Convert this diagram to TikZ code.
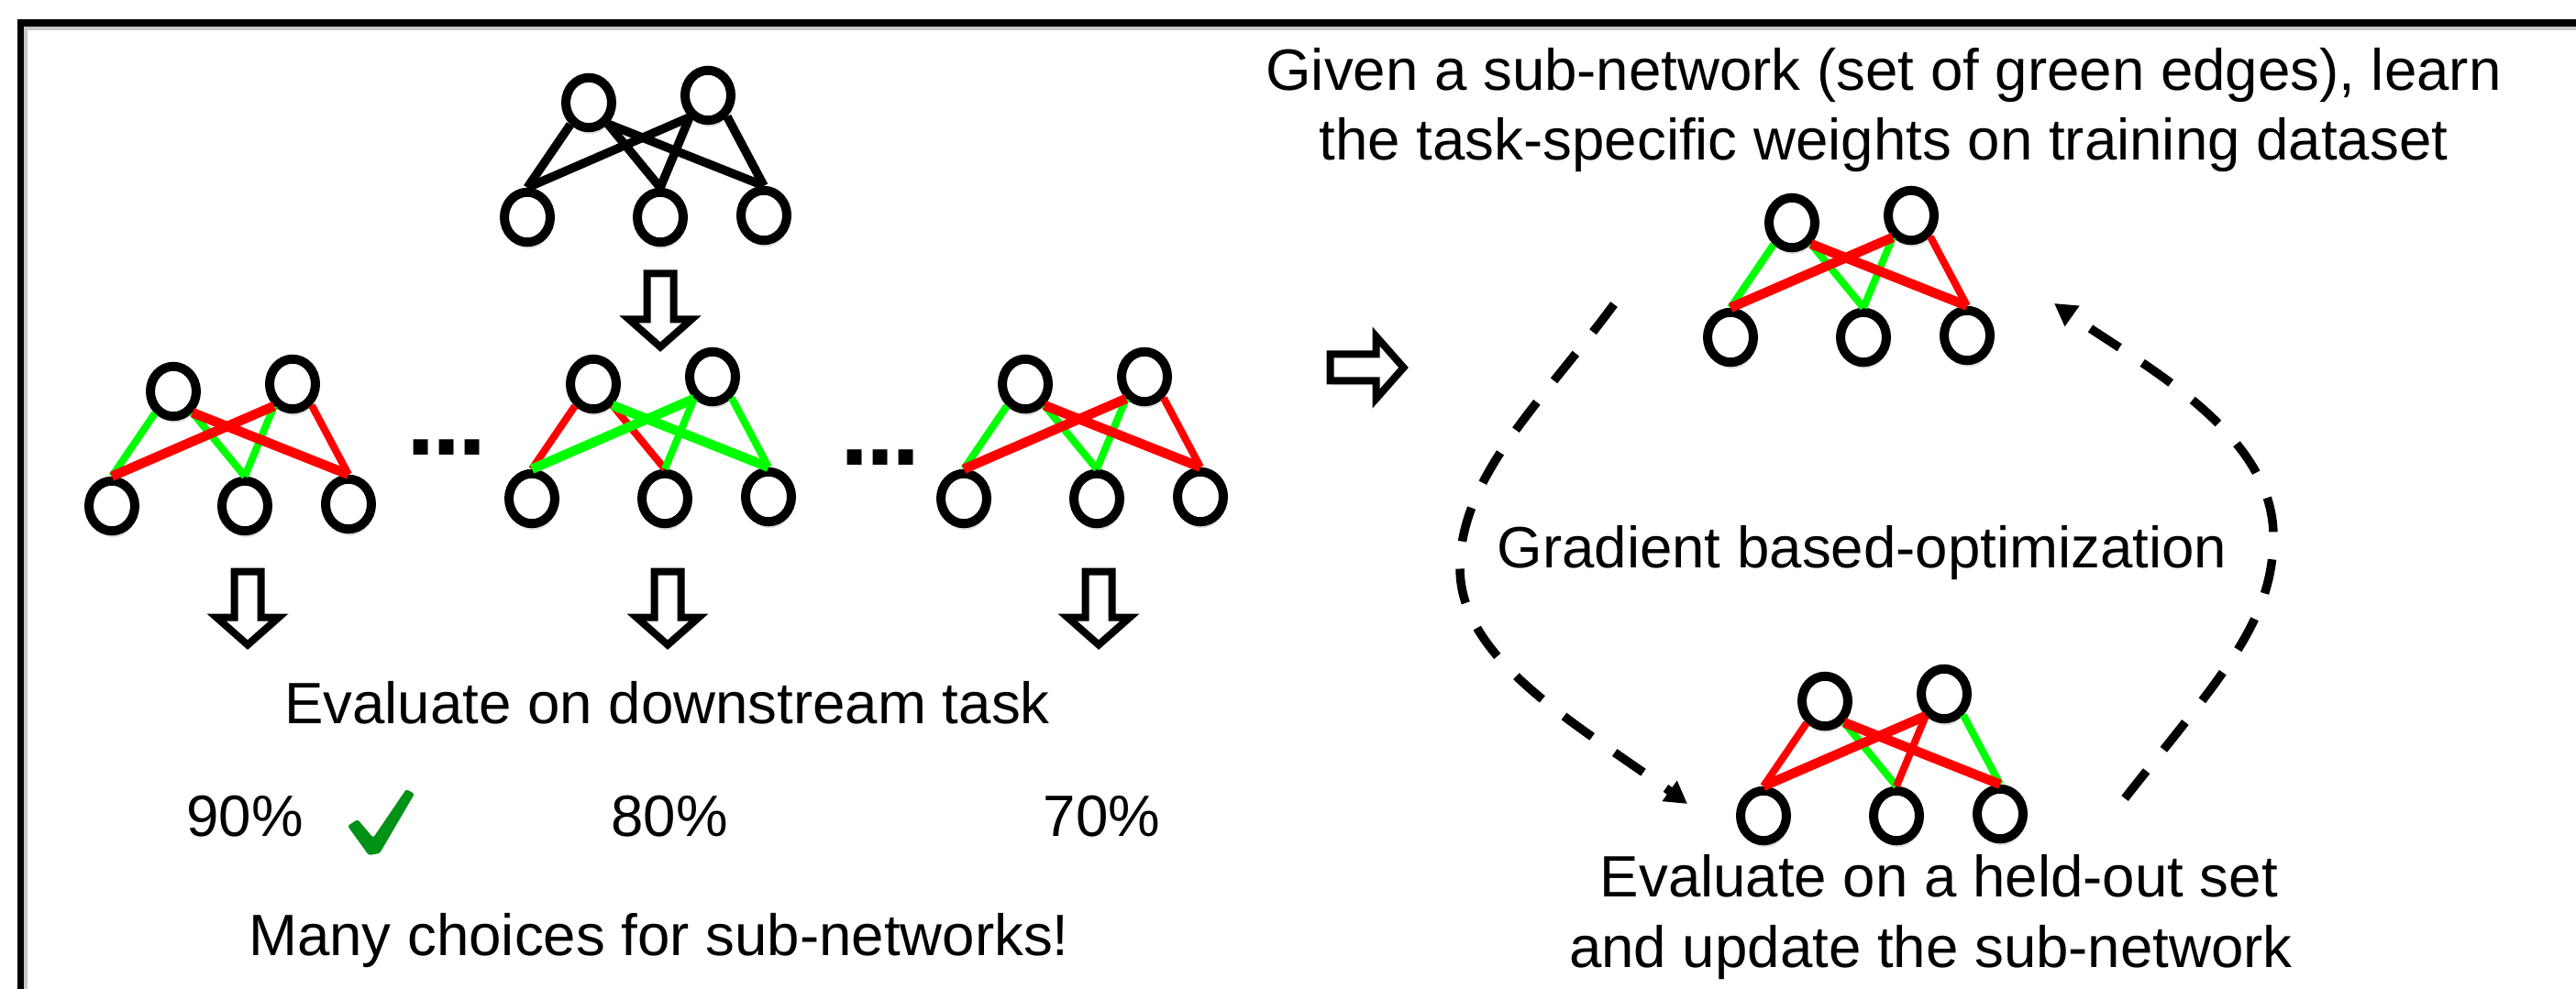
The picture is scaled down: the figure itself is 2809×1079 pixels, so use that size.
\documentclass[tikz,border=0pt]{standalone}
\usepackage{fontspec}
\setmainfont{Liberation Sans}
\usetikzlibrary{arrows.meta,shapes.geometric,shadows}

\definecolor{edgered}{RGB}{255,0,0}
\definecolor{edgegreen}{RGB}{0,255,0}
\definecolor{tickgreen}{RGB}{0,146,22}

\tikzset{
  neuron/.style={ellipse, draw=black, fill=white, line width=1mm,
    minimum width=5mm, minimum height=5.45mm, inner sep=0pt,
    drop shadow={shadow xshift=0.15mm, shadow yshift=-0.7mm, opacity=0.25}},
  thinedge/.style={line width=0.8mm},
  thickedge/.style={line width=1.05mm},
  txt/.style={font=\fontsize{18.1pt}{21.9pt}\selectfont, inner sep=0pt,
    anchor=base, align=center},
  dots/.style={font=\fontsize{32pt}{32pt}\selectfont\bfseries, inner sep=0pt,
    anchor=base west},
  hollow/.style={draw=black, fill=white, line width=0.8mm, miter limit=10,
    drop shadow={shadow xshift=0.15mm, shadow yshift=-0.5mm, opacity=0.25}},
  loopline/.style={line width=0.95mm, dash pattern=on 3.8mm off 3mm,
    -{Triangle[length=2.4mm,width=2.6mm]}},
  hollowarrow/.pic={
    \path[hollow] (-14.5,0) -- (-14.5,50) -- (-34,50) -- (0,80)
      -- (34,50) -- (14.5,50) -- (14.5,0) -- cycle;
  }
}

% A two-layer network: #1 name, #2 position of the lower-left unit,
% #3..#8 edge colours tl-bl, tl-bm, tl-br, tr-bl, tr-bm, tr-br
\newcommand\drawnet[8]{%
  \path #2 node[neuron] (#1bl) {}
    +(67,-125) node[neuron] (#1tl) {}
    +(197,-133) node[neuron] (#1tr) {}
    +(145,0) node[neuron] (#1bm) {}
    +(258,-2) node[neuron] (#1br) {};
  \draw[thinedge,#3] (#1tl.-130) -- (#1bl.north);
  \draw[thinedge,#4] (#1tl.-48) -- (#1bm.north);
  \draw[thinedge,#7] (#1tr.-130) -- (#1bm.north);
  \draw[thinedge,#8] (#1tr.-48) -- (#1br.north);
  \draw[thickedge,#5] (#1tl.-48) -- (#1br.north);
  \draw[thickedge,#6] (#1tr.-130) -- (#1bl.north);
}

\begin{document}
\begin{tikzpicture}[x=0.1mm, y=-0.1mm]
\useasboundingbox (0,0) rectangle (2809,1079);

% frame
\draw[black!22, line width=0.5mm] (27.5,1079) -- (27.5,30.5) -- (2809,30.5);
\draw[line width=0.72mm] (22.3,1079) -- (22.3,25) -- (2809,25);

% full network
\begin{scope}[thinedge/.style={line width=0.95mm}, thickedge/.style={line width=0.95mm}]
  \drawnet{o}{(575,237)}{black}{black}{black}{black}{black}{black}
\end{scope}
\pic at (720,298.5) {hollowarrow};

% candidate sub-networks
\drawnet{a}{(122,552)}{edgegreen}{edgegreen}{edgered}{edgered}{edgegreen}{edgered}
\drawnet{b}{(580,544)}{edgered}{edgered}{edgegreen}{edgegreen}{edgegreen}{edgegreen}
\drawnet{c}{(1051,544)}{edgegreen}{edgegreen}{edgered}{edgered}{edgegreen}{edgered}

\node[dots] (dotsa) at (443,496) {.\kern-0.33mm.\kern-0.33mm.};
\node[dots] (dotsb) at (916,507) {.\kern-0.33mm.\kern-0.33mm.};

\pic at (270,623.5) {hollowarrow};
\pic at (728,623.5) {hollowarrow};
\pic at (1198,623.5) {hollowarrow};

\node[txt] (evaltask) at (727.5,789) {Evaluate on downstream task};
\node[txt] (acca) at (267,912) {90\%};
\node[txt] (accb) at (730,912) {80\%};
\node[txt] (accc) at (1201.5,912) {70\%};
\fill[tickgreen, rounded corners=0.25mm] (379,901) -- (390,894) -- (407,914)
  -- (443,861) -- (452,866) -- (414,931) -- (402,933) -- cycle;
\node[txt] (many) at (718.5,1042) {Many choices for sub-networks!};

% right half: learning loop
\pic[rotate=90] at (1450.5,401) {hollowarrow};

\node[txt] (given) at (2054,175)
  {Given a sub-network (set of green edges), learn\\the task-specific weights on training dataset};
\drawnet{d}{(1887,368)}{edgegreen}{edgegreen}{edgered}{edgered}{edgegreen}{edgered}
\drawnet{e}{(1923,890)}{edgered}{edgegreen}{edgered}{edgered}{edgered}{edgegreen}

\node[txt] (grad) at (2030.5,619) {Gradient based-optimization};
\node[txt] (heldout) at (2105.5,1055)
  {\kern.278em Evaluate on a held-out set\\and update the sub-network};

\coordinate (loopA) at (1760,332);
\coordinate (loopB) at (1840,877);
\coordinate (loopC) at (2317,871);
\coordinate (loopD) at (2240,331);
\draw[loopline] (loopA) .. controls (1680,440) and (1592,520) .. (1592,620)
  .. controls (1592,720) and (1720,790) .. (loopB);
\draw[loopline] (loopC) .. controls (2420,740) and (2479,680) .. (2479,585)
  .. controls (2479,470) and (2330,395) .. (loopD);
\end{tikzpicture}
\end{document}
